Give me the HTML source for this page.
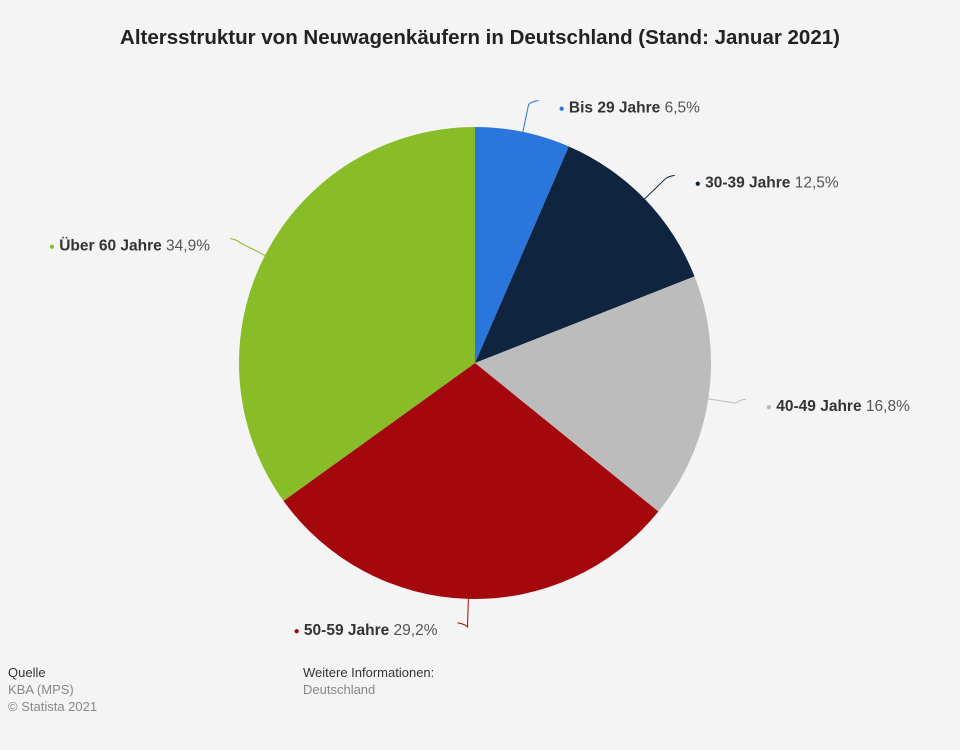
<!DOCTYPE html>
<html><head><meta charset="utf-8"><style>
body{margin:0;background:#f4f4f4;font-family:"Liberation Sans",sans-serif;}
#wrap{position:relative;width:960px;height:750px;background:#f4f4f4;overflow:hidden}
.ft{position:absolute;font-size:13px;line-height:17px}
</style></head><body>
<div id="wrap">
<svg id="svg" width="960" height="750" style="position:absolute;left:0;top:0">
<text x="480" y="44" text-anchor="middle" font-size="20.5" font-weight="bold" fill="#222">Altersstruktur von Neuwagenkäufern in Deutschland (Stand: Januar 2021)</text>
</svg>
<div class="ft" style="left:8px;top:664px;color:#333">Quelle</div>
<div class="ft" style="left:8px;top:681px;color:#888">KBA (MPS)<br>© Statista 2021</div>
<div class="ft" style="left:303px;top:664px;color:#333">Weitere Informationen:</div>
<div class="ft" style="left:303px;top:681px;color:#888">Deutschland</div>
</div>
<script>
const categories=["Bis 29 Jahre","30-39 Jahre","40-49 Jahre","50-59 Jahre","Über 60 Jahre"];
const values=[6.5,12.5,16.8,29.2,34.9];
const valueLabels=["6,5%","12,5%","16,8%","29,2%","34,9%"];
const colors=["#2a76dd","#0f243e","#bcbcbc","#a4080c","#88bd27"];
const svg=document.getElementById('svg');
const NS="http://www.w3.org/2000/svg";
const cx=475,cy=363,r=236;
const total=values.reduce((a,b)=>a+b,0);
function pt(a,rad){return [cx+rad*Math.sin(a),cy-rad*Math.cos(a)];}
let cum=0;
values.forEach((v,i)=>{
  const a0=cum/total*2*Math.PI; cum+=v; const a1=cum/total*2*Math.PI;
  const p0=pt(a0,r),p1=pt(a1,r);
  const path=document.createElementNS(NS,'path');
  path.setAttribute('d',`M${cx},${cy}L${p0[0]},${p0[1]}A${r},${r} 0 ${a1-a0>Math.PI?1:0} 1 ${p1[0]},${p1[1]}Z`);
  path.setAttribute('fill',colors[i]);
  
  
  svg.appendChild(path);
  const am=(a0+a1)/2;
  const s=pt(am,r),e=pt(am,r+28);
  const right=Math.sin(am)>0.01;
  const cxp=pt(am,r+14);
  const ex=e[0]+(right?10:-10);
  const line=document.createElementNS(NS,'path');
  line.setAttribute('d',`M${s[0]},${s[1]}Q${cxp[0]},${cxp[1]} ${e[0]},${e[1]}Q${e[0]+(right?3:-3)},${e[1]-3} ${ex},${e[1]-4}`);
  line.setAttribute('fill','none');line.setAttribute('stroke',colors[i]);line.setAttribute('stroke-width','1');
  
  
  svg.appendChild(line);
  const t=document.createElementNS(NS,'text');
  t.setAttribute('x',right?e[0]+30:e[0]-30);
  t.setAttribute('y',e[1]+8);
  t.setAttribute('text-anchor',right?'start':'end');
  t.setAttribute('font-size','15.5');
  
  
  t.innerHTML=`<tspan fill="${colors[i]}" font-size="10" dy="-1">●</tspan><tspan fill="#333" font-weight="bold" dy="1"> ${categories[i]}</tspan><tspan fill="#555"> ${valueLabels[i]}</tspan>`;
  svg.appendChild(t);
});
</script>
</body></html>
